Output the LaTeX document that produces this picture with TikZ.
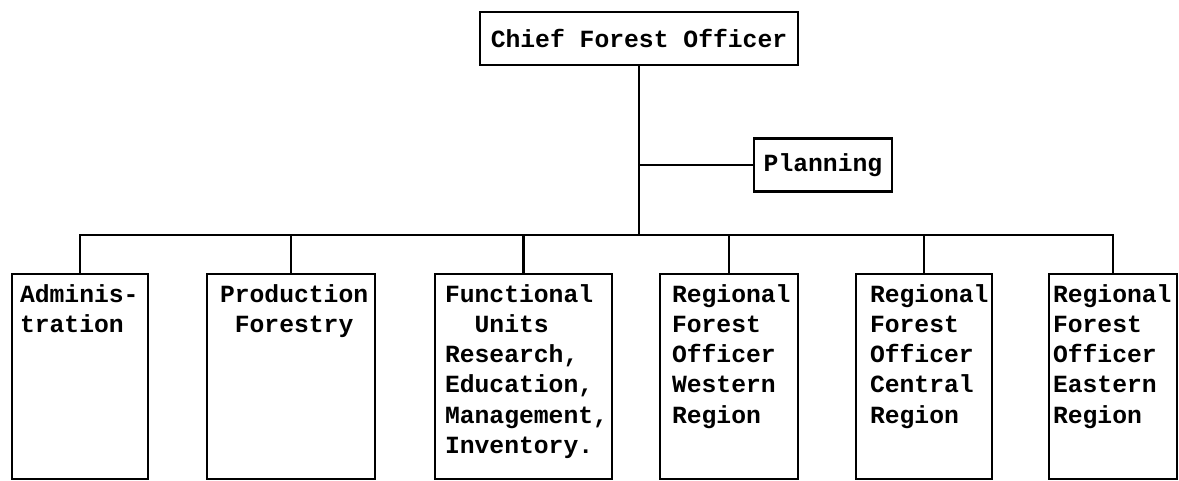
\documentclass[tikz,border=0pt]{standalone}
\usepackage{fontspec}
\setmonofont{Liberation Mono}
\usetikzlibrary{positioning}
\newcommand{\chartfont}{\fontsize{24.7pt}{30.3pt}\selectfont\ttfamily\bfseries}

\begin{document}
\begin{tikzpicture}[x=1pt, y=1pt, line width=2.4pt,
  box/.style={draw, inner sep=0pt, minimum height=53pt, font=\chartfont},
  unit/.style={draw, inner sep=0pt, anchor=north, minimum height=205pt},
  txt/.style={inner sep=0pt, anchor=base west, font=\chartfont}]
\useasboundingbox (0,0) rectangle (1179,480);

% Top of the chart
\node[box, minimum width=318pt] (chief) at (639,441.5) {Chief Forest Officer};
\node[box, minimum width=138pt] (plan) at (823,315) {Planning};
\coordinate (bus) at (639,245);

% Units
\node[unit, minimum width=136pt] (adm) at (80,207) {};
\node[unit, minimum width=168pt] (prod) at (291,207) {};
\node[unit, minimum width=177pt] (func) at (523.5,207) {};
\node[unit, minimum width=138pt] (west) at (729,207) {};
\node[unit, minimum width=136pt] (cent) at (924,207) {};
\node[unit, minimum width=128pt] (east) at (1113,207) {};

% Unit texts
\node[txt] (admT) at ([shift={(8,-29)}]adm.north west)
  {\begin{tabular}[t]{@{}l@{}}Adminis-\\tration\end{tabular}};
\node[txt] (prodT) at ([shift={(13,-29)}]prod.north west)
  {\begin{tabular}[t]{@{}l@{}}Production\\\phantom{x}Forestry\end{tabular}};
\node[txt] (funcT) at ([shift={(10,-29)}]func.north west)
  {\begin{tabular}[t]{@{}l@{}}Functional\\\phantom{xx}Units\\Research,\\Education,\\Management,\\Inventory.\end{tabular}};
\node[txt] (westT) at ([shift={(12,-29)}]west.north west)
  {\begin{tabular}[t]{@{}l@{}}Regional\\Forest\\Officer\\Western\\Region\end{tabular}};
\node[txt] (centT) at ([shift={(14,-29)}]cent.north west)
  {\begin{tabular}[t]{@{}l@{}}Regional\\Forest\\Officer\\Central\\Region\end{tabular}};
\node[txt] (eastT) at ([shift={(4,-29)}]east.north west)
  {\begin{tabular}[t]{@{}l@{}}Regional\\Forest\\Officer\\Eastern\\Region\end{tabular}};

% Lines
\draw (chief.south) -- (bus);
\draw (chief.south |- plan.west) -- (plan.west);
\draw (adm.north) |- (bus) -| (east.north);
\foreach \u in {prod,func,west,cent}
  \draw (\u.north) -- (\u.north |- bus);

\end{tikzpicture}
\end{document}
